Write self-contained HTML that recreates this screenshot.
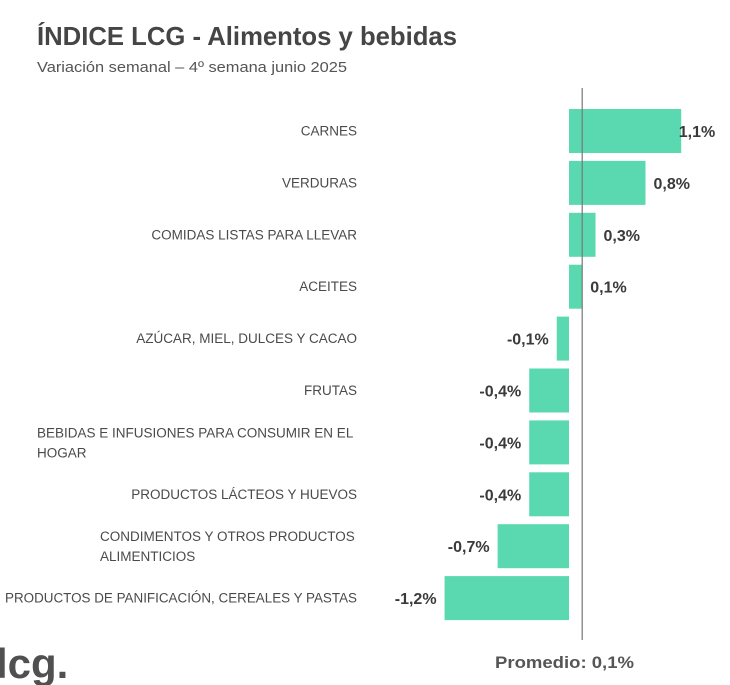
<!DOCTYPE html>
<html><head><meta charset="utf-8"><style>
body{margin:0;background:#fff;}
svg{display:block;font-family:"Liberation Sans",sans-serif;}
</style></head><body>
<svg id="chart" width="730" height="685">
<text x="37" y="45" font-size="26" font-weight="bold" fill="#454545" textLength="420" lengthAdjust="spacingAndGlyphs">ÍNDICE LCG - Alimentos y bebidas</text>
<text x="37" y="72" font-size="15" fill="#555" textLength="310" lengthAdjust="spacingAndGlyphs">Variación semanal – 4º semana junio 2025</text>
<g id="bars"></g>
<text x="-4" y="678" font-size="42" font-weight="bold" fill="#505050">lcg.</text>
<text x="495" y="668" font-size="17" font-weight="bold" fill="#555" textLength="139" lengthAdjust="spacingAndGlyphs">Promedio: 0,1%</text>
</svg>
<script>
const categories=[["CARNES"],["VERDURAS"],["COMIDAS LISTAS PARA LLEVAR"],["ACEITES"],["AZÚCAR, MIEL, DULCES Y CACAO"],["FRUTAS"],["BEBIDAS E INFUSIONES PARA CONSUMIR EN EL","HOGAR"],["PRODUCTOS LÁCTEOS Y HUEVOS"],["CONDIMENTOS Y OTROS PRODUCTOS","ALIMENTICIOS"],["PRODUCTOS DE PANIFICACIÓN, CEREALES Y PASTAS"]];
const values=[1.1,0.75,0.26,0.13,-0.12,-0.39,-0.39,-0.39,-0.70,-1.22];
const valueLabels=["1,1%","0,8%","0,3%","0,1%","-0,1%","-0,4%","-0,4%","-0,4%","-0,7%","-1,2%"];
const average=0.1;
const NS="http://www.w3.org/2000/svg";
const x0=569, scale=102, top0=109, pitch=51.9, bh=44;
const xS=v=>x0+v*scale;
const yS=i=>top0+i*pitch;
const g=document.getElementById('bars');
function mk(t,a){const e=document.createElementNS(NS,t);for(const k in a)e.setAttribute(k,a[k]);return e;}
values.forEach((v,i)=>{
  const y=yS(i), x1=Math.min(xS(0),xS(v)), w=Math.abs(xS(v)-xS(0));
  const r=mk('rect',{x:x1,y:y,width:w,height:bh,fill:'#5ad9b0'});
  
  
  g.appendChild(r);
  const cy=y+bh/2;
  const vl=mk('text',{y:cy+6,'font-size':16,'font-weight':'bold',fill:'#3a3a3a'});
  if(v>=0){vl.setAttribute('x',xS(v)+8);vl.setAttribute('text-anchor','start');}
  else{vl.setAttribute('x',xS(v)-8);vl.setAttribute('text-anchor','end');}
  if(i===0){vl.setAttribute('x',xS(v)+34);vl.setAttribute('text-anchor','end');}
  vl.textContent=valueLabels[i];
  
  
  g.appendChild(vl);
  const lines=categories[i];
  lines.forEach((ln,j)=>{
    const ty=lines.length===1?cy+4.5:cy-5+j*20;
    const t=mk('text',{y:ty,'font-size':13.5,fill:'#4a4a4a'});
    if(lines.length===1){t.setAttribute('x',357);t.setAttribute('text-anchor','end');}
    else{t.setAttribute('x',i===6?37:100);}
    t.textContent=ln;
    
    
    g.appendChild(t);
    const len=t.getComputedTextLength();
    const target=i===9&&j===0?352:(i===6&&j===0?320:null);
    if(target&&len>target){t.setAttribute('textLength',target);t.setAttribute('lengthAdjust','spacingAndGlyphs');}
  });
});
const al=mk('line',{x1:xS(average)+3,x2:xS(average)+3,y1:88,y2:640,stroke:'#777','stroke-width':1.2});


g.appendChild(al);
</script>
</body></html>
